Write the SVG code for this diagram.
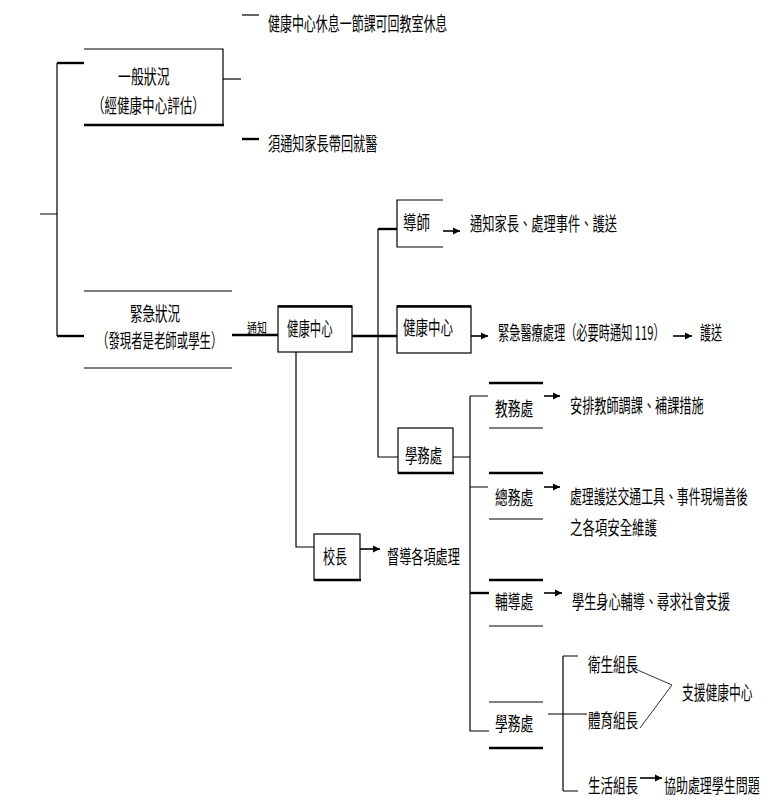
<svg xmlns="http://www.w3.org/2000/svg" width="775" height="809" viewBox="0 0 775 809">
<defs>
<style>
text{font-family:"Noto Sans CJK TC","Noto Sans CJK SC",sans-serif;font-size:19px;fill:#000}
.s{font-size:14px}
.t{stroke:#000;stroke-width:1.2;fill:none}
.k{stroke:#000;stroke-width:2.4;fill:none}
.bx{stroke:#000;stroke-width:1.2;fill:#fff}
.ar{stroke:#000;stroke-width:1.6;fill:none;marker-end:url(#ah)}
.dl{stroke:#333;stroke-width:1;fill:none}
</style>
<marker id="ah" markerUnits="userSpaceOnUse" markerWidth="8" markerHeight="8" refX="7" refY="4" orient="auto">
<path d="M0,0.5 L7,4 L0,7.5 Z" fill="#000"/>
</marker>
</defs>
<rect width="775" height="809" fill="#fff"/>
<g id="connectors">
<path class="t" d="M242,15H259"/>
<path class="k" d="M242,139H259"/>
<path class="t" d="M223,79H241"/>
<path class="k" d="M57,63H84"/>
<path class="t" d="M57,63V336M40,214H57"/>
<path class="k" d="M57,336H84"/>
<path class="k" d="M232,335H278"/>
<path class="k" d="M352,336H397"/>
<path class="t" d="M378,229V457H398"/>
<path class="k" d="M378,229H397"/>
<path class="ar" d="M443,231H460"/>
<path class="ar" d="M471,336H488"/>
<path class="ar" d="M673,336H692"/>
<path class="t" d="M453,457H470M470,396V731H489M470,396H488M470,487H488"/>
<path class="k" d="M470,593H489"/>
<path class="ar" d="M544,396H560"/>
<path class="ar" d="M544,487H560"/>
<path class="ar" d="M544,593H562"/>
<path class="t" d="M548,714H587M563,656V791M563,656H578M563,791H578"/>
<path class="ar" d="M640,778H662"/>
<path class="dl" d="M633,668L672,685L640,728"/>
<path class="t" d="M296,352V547H314"/>
<path class="ar" d="M360,549H380"/>
</g>
<g id="note-rest">
<text transform="translate(268,31) scale(0.63,1)">健康中心休息一節課可回教室休息</text>
</g>
<g id="general">
<path class="t" d="M84,49H223V125"/>
<path class="k" d="M84,125H224"/>
<text transform="translate(118,84) scale(0.68,1)">一般狀況</text>
<text transform="translate(92,113) scale(0.66,1)">（經健康中心評估）</text>
</g>
<g id="note-parent">
<text transform="translate(268,151) scale(0.64,1)">須通知家長帶回就醫</text>
</g>
<g id="emergency">
<path class="t" d="M84,291H232M84,368H232"/>
<text transform="translate(130,321) scale(0.66,1)">緊急狀況</text>
<text transform="translate(97,348) scale(0.6,1)">（發現者是老師或學生）</text>
</g>
<g id="notify-label">
<text class="s" transform="translate(247,333) scale(0.71,1)">通知</text>
</g>
<g id="health1">
<rect class="bx" x="278" y="306" width="74" height="46"/>
<path class="k" d="M278,306.5H352"/>
<text transform="translate(287,336) scale(0.6,1)">健康中心</text>
</g>
<g id="tutor">
<path class="t" d="M443,200H397V247H443"/>
<text transform="translate(403,230) scale(0.71,1)">導師</text>
<text transform="translate(470,231) scale(0.645,1)">通知家長、處理事件、護送</text>
</g>
<g id="health2">
<rect class="bx" x="397" y="306" width="74" height="47"/>
<path class="k" d="M397,306.5H471"/>
<text transform="translate(403,335) scale(0.66,1)">健康中心</text>
<text transform="translate(498,340) scale(0.59,1)">緊急醫療處理（必要時通知 119）</text>
<text transform="translate(700,340) scale(0.58,1)">護送</text>
</g>
<g id="student-affairs">
<rect class="bx" x="398" y="428" width="55" height="45"/>
<path class="k" d="M398,473H454"/>
<text transform="translate(405,463) scale(0.65,1)">學務處</text>
</g>
<g id="academic">
<path class="k" d="M489,383H543"/>
<path class="t" d="M489,428H543"/>
<text transform="translate(495,416) scale(0.67,1)">教務處</text>
<text transform="translate(570,413) scale(0.64,1)">安排教師調課、補課措施</text>
</g>
<g id="general-affairs">
<path class="k" d="M489,473H543"/>
<path class="t" d="M489,519H543"/>
<text transform="translate(495,505) scale(0.67,1)">總務處</text>
<text transform="translate(570,504) scale(0.625,1)">處理護送交通工具、事件現場善後</text>
<text transform="translate(570,535) scale(0.654,1)">之各項安全維護</text>
</g>
<g id="principal">
<rect class="bx" x="314" y="534" width="46" height="46"/>
<path class="k" d="M314,580H361"/>
<text transform="translate(323,564) scale(0.63,1)">校長</text>
<text transform="translate(387,564) scale(0.64,1)">督導各項處理</text>
</g>
<g id="counseling">
<path class="k" d="M489,580H543"/>
<path class="t" d="M489,626H543"/>
<text transform="translate(495,609) scale(0.67,1)">輔導處</text>
<text transform="translate(572,609) scale(0.64,1)">學生身心輔導、尋求社會支援</text>
</g>
<g id="student-affairs-2">
<path class="t" d="M489,702H543"/>
<path class="k" d="M489,748H543"/>
<text transform="translate(495,731) scale(0.67,1)">學務處</text>
</g>
<g id="hygiene">
<text transform="translate(588,672) scale(0.66,1)">衛生組長</text>
</g>
<g id="sports">
<text transform="translate(588,728) scale(0.66,1)">體育組長</text>
</g>
<g id="support">
<text transform="translate(682,700) scale(0.62,1)">支援健康中心</text>
</g>
<g id="life">
<text transform="translate(588,793) scale(0.66,1)">生活組長</text>
<text transform="translate(664,793) scale(0.63,1)">協助處理學生問題</text>
</g>
</svg>
